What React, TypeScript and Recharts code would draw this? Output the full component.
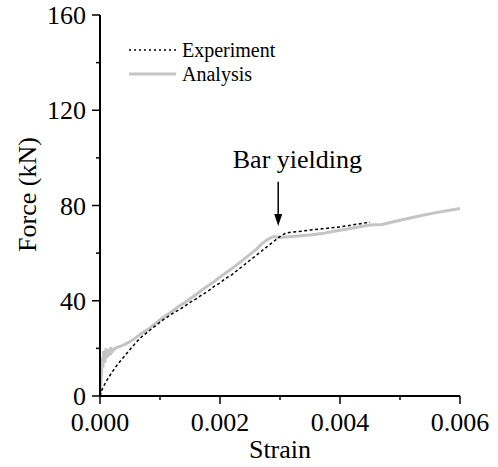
import React from 'react';
import {
  LineChart, Line, XAxis, YAxis, Legend, ReferenceLine, ReferenceDot, Label,
} from 'recharts';

// ---- data ----
const expStrain = [0, 0.00003, 0.0001, 0.0002, 0.0003, 0.0004, 0.0005, 0.0006, 0.0007, 0.0008, 0.0009, 0.001,
  0.0011, 0.0012, 0.0013, 0.0014, 0.0015, 0.0016, 0.0017, 0.0018, 0.0019, 0.002, 0.0021, 0.0022, 0.0023,
  0.0024, 0.0025, 0.0026, 0.0027, 0.0028, 0.0029, 0.003, 0.0031, 0.0032, 0.0033, 0.0035, 0.0037, 0.004,
  0.0042, 0.0045];
const expForce = [0, 2.5, 6, 10, 13.5, 16.5, 19.5, 22.5, 25, 27, 29, 31,
  32.8, 34.5, 36, 37.5, 39.3, 40.8, 42.5, 44, 46, 47.5, 49.5, 51, 53,
  55, 57, 59, 61, 63, 65, 67, 68.5, 68.8, 69, 69.7, 70.2, 71,
  71.8, 73];

const anaStrain = [0, 0.00002, 0.00004, 0.00005, 0.00006, 0.00008, 0.0001, 0.00012, 0.00014, 0.00016, 0.00018,
  0.0002, 0.00025, 0.0003, 0.0004, 0.0005, 0.0006, 0.0007, 0.0008, 0.0009, 0.001, 0.0011, 0.0012, 0.0013,
  0.0014, 0.0015, 0.0016, 0.0017, 0.0018, 0.0019, 0.002, 0.0021, 0.0022, 0.0023, 0.0024, 0.0025, 0.0026,
  0.0027, 0.00278, 0.00285, 0.0029, 0.003, 0.0031, 0.0033, 0.0035, 0.0037, 0.0039, 0.0041, 0.0043, 0.0045,
  0.0047, 0.005, 0.0053, 0.0056, 0.006];
const anaForce = [0, 8, 16, 12, 19, 14, 20, 16, 19.5, 17, 20.5,
  18.5, 20, 20.5, 21.5, 22.8, 24.5, 26.5, 28, 30, 32, 33.8, 35.5, 37.5,
  39, 40.8, 42.5, 44.5, 46.3, 48, 50, 51.8, 53.5, 55.5, 57.5, 59.5, 61.5,
  64, 65.5, 66.5, 67, 66.6, 66.8, 67.2, 67.6, 68.2, 69.2, 70, 71, 71.8,
  72, 73.8, 75.5, 77, 78.7];

const xTicks = [0, 0.001, 0.002, 0.003, 0.004, 0.005, 0.006];
const yTicks = [0, 20, 40, 60, 80, 100, 120, 140, 160];
const xMajorStep = 0.002;
const yMajorStep = 40;

const annotationText = 'Bar yielding';
const arrowStrain = 0.00297;
const arrowTopForce = 90;
const arrowTipForce = 71.4;
const textStrain = 0.00329;
const textForce = 95.8;

const expData = expStrain.map((x, i) => ({ x, y: expForce[i] }));
const anaData = anaStrain.map((x, i) => ({ x, y: anaForce[i] }));

const FONT = 'Liberation Serif';
const TS: React.CSSProperties = { fontFamily: FONT };
const isMajor = (v: number, step: number) => Math.abs(v / step - Math.round(v / step)) < 1e-6;

const XTickBottom = (p: any) => {
  const major = isMajor(p.payload.value, xMajorStep);
  return (
    <g>
      <line x1={p.x} x2={p.x} y1={p.y} y2={p.y + (major ? 8 : 4)} stroke="#000" strokeWidth={1.5} />
      {major && (
        <text x={p.x} y={p.y + 35} textAnchor="middle" fontSize={26} style={TS} fill="#000">
          {Number(p.payload.value).toFixed(3)}
        </text>
      )}
    </g>
  );
};
const XTickTop = (p: any) => {
  const major = isMajor(p.payload.value, xMajorStep);
  return <line x1={p.x} x2={p.x} y1={p.y} y2={p.y + (major ? 8 : 4)} stroke="#000" strokeWidth={1.5} />;
};
const YTickLeft = (p: any) => {
  const major = isMajor(p.payload.value, yMajorStep);
  return (
    <g>
      <line x1={p.x} x2={p.x - (major ? 8 : 4)} y1={p.y} y2={p.y} stroke="#000" strokeWidth={1.5} />
      {major && (
        <text x={p.x - 14} y={p.y + 9} textAnchor="end" fontSize={26} style={TS} fill="#000">
          {p.payload.value}
        </text>
      )}
    </g>
  );
};
const YTickRight = (p: any) => {
  const major = isMajor(p.payload.value, yMajorStep);
  return <line x1={p.x} x2={p.x - (major ? 8 : 4)} y1={p.y} y2={p.y} stroke="#000" strokeWidth={1.5} />;
};

const XLabel = (p: any) => {
  const vb = p.viewBox;
  return (
    <text x={vb.x + vb.width / 2} y={vb.y + 62} textAnchor="middle" fontSize={26} style={TS} fill="#000">
      Strain
    </text>
  );
};
const YLabel = (p: any) => {
  const vb = p.viewBox;
  const cx = vb.x + 27;
  const cy = vb.y + vb.height / 2 - 11;
  return (
    <text x={cx} y={cy} transform={`rotate(-90 ${cx} ${cy})`} textAnchor="middle" dominantBaseline="central"
      fontSize={26} style={TS} fill="#000">
      Force (kN)
    </text>
  );
};

const legendStyles: Record<string, { stroke: string; width: number; dash?: string }> = {
  Experiment: { stroke: '#000', width: 1.5, dash: '2 3' },
  Analysis: { stroke: '#c4c4c4', width: 3 },
};

const LegendContent = (props: any) => {
  const items = (props.payload || []).slice().sort((a: any) => (a.value === 'Experiment' ? -1 : 1));
  return (
    <svg width={170} height={50} style={{ display: 'block', overflow: 'visible' }}>
      {items.map((it: any, i: number) => {
        const st = legendStyles[it.value];
        const y = 12 + i * 24;
        return (
          <g key={it.value}>
            <line x1={4} x2={51} y1={y} y2={y} stroke={st.stroke} strokeWidth={st.width} strokeDasharray={st.dash} />
            <text x={57} y={y} dominantBaseline="central" fontSize={20} style={TS} fill="#000">
              {it.value}
            </text>
          </g>
        );
      })}
    </svg>
  );
};

const ArrowHead = (p: any) => (
  <path d={`M${p.cx},${p.cy} L${p.cx - 4},${p.cy - 12} L${p.cx + 4},${p.cy - 12} Z`} fill="#000" />
);
const AnnotText = (p: any) => (
  <text x={p.cx} y={p.cy} textAnchor="middle" fontSize={26} style={TS} fill="#000">
    {annotationText}
  </text>
);

export default function App() {
  return (
    <div style={{ position: 'absolute', left: 0, top: 0, width: 498, height: 467, background: '#fff', fontFamily: FONT }}>
      <LineChart width={498} height={467} margin={{ top: 15, right: 38, bottom: 0, left: 0 }}>
        <XAxis xAxisId="x" dataKey="x" type="number" domain={[0, 0.006]} ticks={xTicks} orientation="bottom"
          height={71} axisLine={{ stroke: '#000', strokeWidth: 2 }} tickLine={false} tickSize={0} tickMargin={0}
          tick={<XTickBottom />} interval={0} allowDataOverflow>
          <Label content={<XLabel />} />
        </XAxis>
        <XAxis xAxisId="xt" dataKey="x" type="number" domain={[0, 0.006]} ticks={xTicks} orientation="top"
          height={0} axisLine={{ stroke: '#000', strokeWidth: 2 }} tickLine={false} tickSize={0} tickMargin={0}
          tick={<XTickTop />} interval={0} allowDataOverflow />
        <YAxis yAxisId="y" type="number" domain={[0, 160]} ticks={yTicks} orientation="left" width={100}
          axisLine={{ stroke: '#000', strokeWidth: 2 }} tickLine={false} tickSize={0} tickMargin={0}
          tick={<YTickLeft />} interval={0} allowDataOverflow>
          <Label content={<YLabel />} />
        </YAxis>
        <YAxis yAxisId="yr" type="number" domain={[0, 160]} ticks={yTicks} orientation="right" width={0}
          axisLine={{ stroke: '#000', strokeWidth: 2 }} tickLine={false} tickSize={0} tickMargin={0}
          tick={<YTickRight />} interval={0} allowDataOverflow />
        <Legend layout="vertical" align="center" verticalAlign="middle" content={<LegendContent />}
          wrapperStyle={{ top: 38, left: 125, width: 170, height: 50 }} />
        <Line xAxisId="x" yAxisId="y" data={anaData} dataKey="y" name="Analysis" type="linear" stroke="#c4c4c4"
          strokeWidth={3} dot={false} isAnimationActive={false} />
        <Line xAxisId="x" yAxisId="y" data={expData} dataKey="y" name="Experiment" type="linear" stroke="#000"
          strokeWidth={1.5} strokeDasharray="3 2.5" dot={false} isAnimationActive={false} />
        <ReferenceLine xAxisId="x" yAxisId="y" segment={[{ x: arrowStrain, y: arrowTopForce }, { x: arrowStrain, y: arrowTipForce + 4 }]}
          stroke="#000" strokeWidth={1.5} />
        <ReferenceDot xAxisId="x" yAxisId="y" x={arrowStrain} y={arrowTipForce} r={0} shape={<ArrowHead />} />
        <ReferenceDot xAxisId="x" yAxisId="y" x={textStrain} y={textForce} r={0} shape={<AnnotText />} />
      </LineChart>
    </div>
  );
}
